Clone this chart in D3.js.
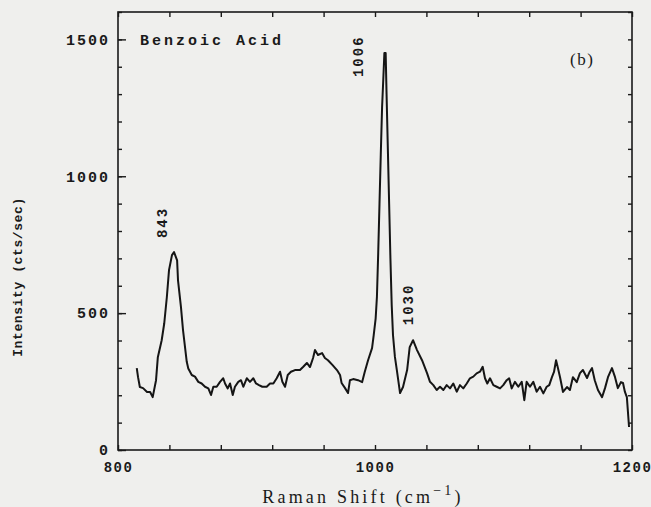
<!DOCTYPE html>
<html>
<head>
<meta charset="utf-8">
<script src="https://cdn.jsdelivr.net/npm/d3@7"></script>
<style>
  body { margin: 0; background: #efefed; }
  svg { display: block; }
  .tick-label { font-family: "Liberation Mono", monospace; font-weight: bold; font-size: 14px; fill: #1a1a1a; }
  .domain { display: none; }
</style>
</head>
<body>
<svg width="651" height="507"></svg>
<script>
// Raman shift (cm-1)
let shift = [
  814.6, 815.6, 817, 819.5, 822.6, 825, 827, 829.6, 831, 834, 836, 838, 839.7, 842, 843.6,
  846, 846.7, 849, 850.6, 853.5, 854.7, 857.4, 859.9, 862.5, 865.1, 867.7, 870.3, 872.4, 874.2,
  876.8, 879.4, 881.9, 883.3, 885.4, 887.2, 889.3, 891, 893.6, 895.7, 897.5, 900.2, 902.7, 905.3,
  907.4, 909.7, 912.3, 915.7, 918.3, 920.9, 923.5, 926.1, 927.9, 930, 932.1, 934.6, 937.7, 941.6,
  944.2, 947, 949.4, 951.8, 953.3, 955.6, 958.8, 961, 963.4, 967, 970.4, 972.8,
  974, 976.7, 979, 980.5, 983, 986.8, 990, 992, 994.6, 997.7, 999, 1000.5, 1001.5, 1002.5, 1003.5,
  1004.5, 1005.5, 1006.5, 1007.3, 1008.3, 1009, 1010, 1011, 1012, 1013, 1014, 1015.5, 1017, 1019.5, 1021.8,
  1025, 1027, 1029.6, 1032.7, 1036.6, 1040.5, 1042.8, 1045.4, 1048, 1050.6, 1053.2, 1055.8, 1058.4, 1060.9,
  1063.6, 1066.1, 1068.7, 1071.4, 1073.9, 1076.5, 1079.1, 1081.7, 1083.8, 1085.6, 1087.4, 1089.5, 1092.1,
  1094.7, 1097.3, 1099.8, 1102.5, 1104.4, 1106.4, 1108.9, 1111.5, 1114.2, 1116.2, 1118, 1120.6, 1123.2,
  1125.8, 1128.4, 1131, 1133.6, 1135.6, 1137.7, 1139.3, 1140.9, 1142.4,
  1144, 1146.3, 1149.4, 1151.7, 1154, 1157, 1159.5, 1161.8, 1165, 1167, 1168.9, 1171, 1173.5, 1176.7, 1179,
  1181.3, 1184.4, 1186.8, 1189, 1191.4, 1193, 1194.5, 1196, 1197.7
];
// intensity (cts/sec)
let intensity = [
  299, 266, 230, 226, 212, 212, 193, 255, 339, 401, 463, 558, 657, 712, 723,
  693, 620, 522, 438, 322, 298, 274, 268, 249, 243, 231, 225, 201, 231,
  231, 249, 262, 243, 225, 243, 201, 231, 249, 255, 231, 262, 249, 262,
  243, 237, 231, 231, 243, 243, 262, 286, 249, 231, 274, 286, 292, 292,
  304, 318, 303, 336, 365, 347, 354, 336, 328, 310, 292, 274,
  245, 226, 208, 255, 259, 255, 248, 285, 328, 372, 420, 480, 560, 720, 900,
  1080, 1250, 1360, 1450, 1450, 1300, 1100, 900, 700, 530, 420, 340, 292, 208, 230,
  292, 376, 401, 365, 328, 281, 249, 237, 219, 231, 219, 237, 225, 243,
  213, 237, 225, 243, 262, 268, 280, 286, 304, 262, 243, 262, 237,
  231, 225, 237, 255, 262, 225, 249, 231, 249, 182, 249, 231, 249,
  213, 231, 207, 231, 237, 266, 285, 328, 299,
  266, 212, 230, 219, 266, 248, 281, 292, 263, 285, 299, 255, 219, 193, 226,
  266, 299, 266, 226, 248, 245, 212, 193, 84
];

let yTicks = [0, 500, 1000, 1500];
let xTickLabels = [800, 1000, 1200];
let peakLabels = ["843", "1006", "1030"];
let peakShift = [843, 1006, 1030];
let peakHeight = [723, 1450, 401];

/******************/

let margin = {top: 12, right: 19, bottom: 57, left: 118};
let width = 651 - margin.left - margin.right;
let height = 507 - margin.top - margin.bottom;

let xScale = d3.scaleLinear().domain([800, 1200]).range([0, width]);
let yScale = d3.scaleLinear().domain([0, 1600]).range([height, 0]);

let svg = d3.select("svg");
let parent = svg.append("g")
  .attr("transform", `translate(${margin.left}, ${margin.top})`);

// frame
parent.append("rect")
  .attr("width", width)
  .attr("height", height)
  .attr("fill", "none")
  .attr("stroke", "#1a1a1a")
  .attr("stroke-width", 1.6);

// minor ticks (inward) on all four sides
let minorY = d3.range(0, 1601, 100);
let minorX = d3.range(800, 1201, 40);

parent.append("g").call(d3.axisLeft(yScale).tickValues(minorY).tickSize(-4).tickFormat(""));
parent.append("g").attr("transform", `translate(${width}, 0)`)
  .call(d3.axisRight(yScale).tickValues(minorY).tickSize(-4).tickFormat(""));
parent.append("g").attr("transform", `translate(0, ${height})`)
  .call(d3.axisBottom(xScale).tickValues(minorX).tickSize(-5).tickFormat(""));
parent.append("g")
  .call(d3.axisTop(xScale).tickValues(minorX).tickSize(-5).tickFormat(""));

// major y ticks + labels
let yAxis = parent.append("g")
  .call(d3.axisLeft(yScale).tickValues(yTicks).tickSize(-8).tickPadding(8).tickFormat(d3.format("d")));
yAxis.selectAll("text").attr("class", "tick-label").attr("font-size", null).attr("font-family", null)
  .style("font-size", "15px").style("letter-spacing", "2px");

// x labels
let xAxis = parent.append("g")
  .attr("transform", `translate(0, ${height})`)
  .call(d3.axisBottom(xScale).tickValues(xTickLabels).tickSize(0).tickPadding(12).tickFormat(d3.format("d")));
xAxis.selectAll("text").attr("class", "tick-label").attr("font-size", null).attr("font-family", null)
  .style("letter-spacing", "1.5px");

parent.selectAll(".tick line").attr("stroke", "#1a1a1a").attr("stroke-width", 1.4);

// spectrum
let data = shift.map((d, i) => ({x: d, y: intensity[i]}));
parent.append("path")
  .datum(data)
  .attr("fill", "none")
  .attr("stroke", "#151515")
  .attr("stroke-width", 2)
  .attr("stroke-linejoin", "round")
  .attr("d", d3.line().x(d => xScale(d.x)).y(d => yScale(d.y)));

// peak labels, rotated; pixel nudges so they sit beside the peaks
let labelNudge = [[-6, -14], [-20, 24], [-1, -15]];
parent.selectAll(".peak")
  .data(peakLabels)
  .enter().append("text")
  .attr("class", "tick-label")
  .attr("transform", (d, i) =>
    `translate(${xScale(peakShift[i]) + labelNudge[i][0]}, ${yScale(peakHeight[i]) + labelNudge[i][1]}) rotate(-90)`)
  .style("letter-spacing", "2px")
  .text(d => d);

// title and panel marker
parent.append("text")
  .attr("x", 22).attr("y", 33)
  .attr("class", "tick-label")
  .style("font-size", "15px")
  .style("letter-spacing", "3px")
  .text("Benzoic Acid");

parent.append("text")
  .attr("x", 452).attr("y", 53)
  .style("font-family", "Liberation Serif, serif")
  .style("font-size", "17px")
  .style("letter-spacing", "1.5px")
  .attr("fill", "#1a1a1a")
  .text("(b)");

// axis titles
let xTitle = svg.append("text")
  .attr("x", 363).attr("y", 503)
  .style("text-anchor", "middle")
  .style("font-family", "Liberation Serif, serif")
  .style("font-size", "18px")
  .style("letter-spacing", "3.2px")
  .attr("fill", "#1a1a1a");
xTitle.append("tspan").text("Raman Shift (cm");
xTitle.append("tspan").attr("dy", -8).style("font-size", "14px").text("\u22121");
xTitle.append("tspan").attr("dy", 8).text(")");

svg.append("text")
  .attr("transform", "translate(22, 277) rotate(-90)")
  .style("text-anchor", "middle")
  .attr("class", "tick-label")
  .style("font-size", "13px")
  .style("letter-spacing", "0.6px")
  .text("Intensity (cts/sec)");
</script>
</body>
</html>
